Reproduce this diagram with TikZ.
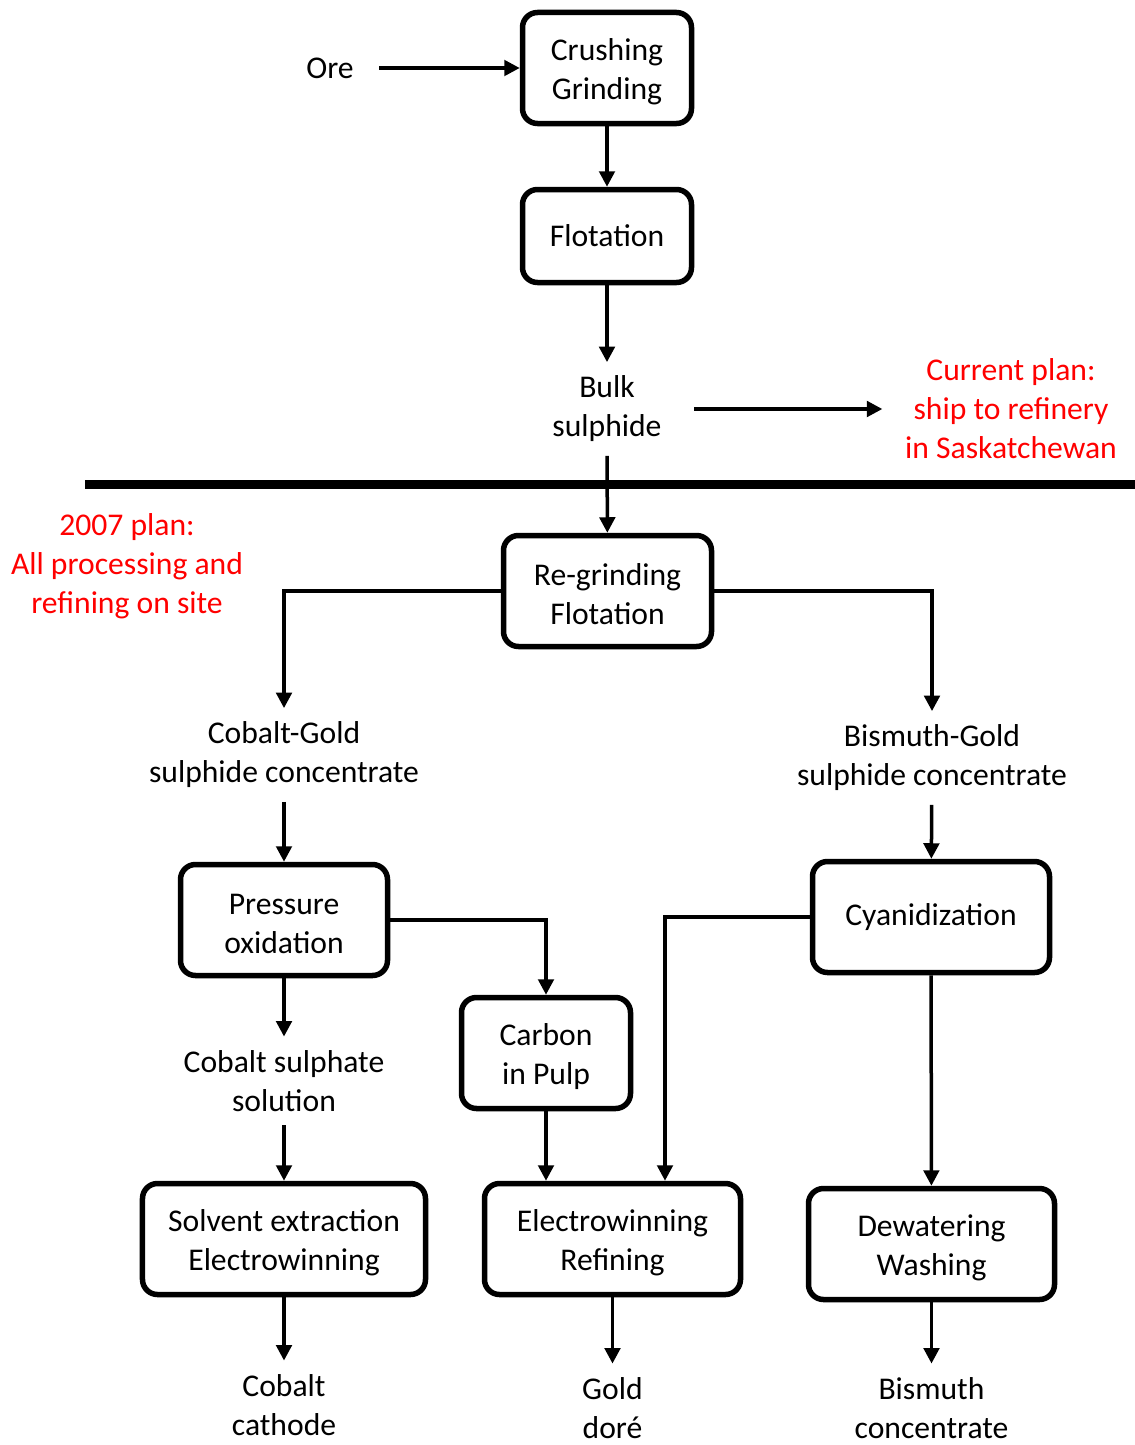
\documentclass[tikz,border=0pt]{standalone}
\usepackage{fontspec}
\setmainfont{Carlito}
\usetikzlibrary{arrows.meta}
\definecolor{FlowRed}{HTML}{FF0000}
\newcommand{\flowfont}{\fontsize{18}{22.2}\selectfont}

\begin{document}
\begin{tikzpicture}[
    x=0.2mm,y=-0.2mm,
    box/.style={draw,line width=1.1mm,rounded corners=3mm,minimum height=22.2mm,align=center,font=\flowfont,inner sep=0pt},
    twoline/.style={box,execute at begin node={\rule{0pt}{38.5pt}}},
    lbl/.style={align=center,font=\flowfont,inner sep=2.7mm},
    redlbl/.style={lbl,text=FlowRed},
    arr/.style={-{Triangle[length=3.1mm,width=3.1mm]},line width=0.7mm},
    divider/.style={line width=1.8mm}
  ]
    \useasboundingbox (0,0) rectangle (1135,1445);
    % upper part: mine site
    \node[lbl] (ore) at (330,68) {Ore};
    \node[twoline,minimum width=33.8mm] (crush) at (607,68) {Crushing\\Grinding};
    \node[box,minimum width=33.8mm,minimum height=18.6mm] (flot) at (607,236) {Flotation};
    \node[lbl] (bulk) at (607,409) {Bulk\\sulphide};
    \node[redlbl] (current) at (1011,409) {Current plan:\\ship to refinery\\in Saskatchewan};
    \draw[divider] (85,484) -- (1135,484);
    % lower part: 2007 plan
    \node[redlbl] (plan) at (127,566) {2007 plan:\\All processing and\\refining on site};
    \node[twoline,minimum width=41.6mm] (regrind) at (607.5,591) {Re-grinding\\Flotation};
    \node[lbl] (cog) at (284,755) {Cobalt-Gold\\sulphide concentrate};
    \node[lbl] (big) at (932,758) {Bismuth-Gold\\sulphide concentrate};
    \node[twoline,minimum width=41.4mm] (pox) at (284,920) {Pressure\\oxidation};
    \node[box,minimum width=47.4mm] (cyan) at (931,917) {Cyanidization};
    \node[twoline,minimum width=33.8mm] (cip) at (546,1053) {Carbon\\in Pulp};
    \node[lbl] (cosol) at (284,1081) {Cobalt sulphate\\solution};
    \node[twoline,minimum width=56.6mm] (sx) at (284,1239) {Solvent extraction\\Electrowinning};
    \node[twoline,minimum width=51.2mm] (ewr) at (612.5,1239) {Electrowinning\\Refining};
    \node[twoline,minimum width=49.2mm] (dew) at (931.5,1244) {Dewatering\\Washing};
    \node[lbl] (coc) at (284,1405) {Cobalt\\cathode};
    \node[lbl] (gold) at (612.5,1408) {Gold\\doré};
    \node[lbl] (bic) at (931.5,1408) {Bismuth\\concentrate};
    \draw[arr,shorten <=2.3mm] (ore) -- (crush);
    \draw[arr] (crush) -- (flot);
    \draw[arr] (flot) -- (bulk);
    \draw[arr,shorten <=3.8mm,shorten >=1.8mm] (bulk) -- (bulk -| current.west);
    \draw[arr] (bulk) -- (regrind);
    \draw[arr] (regrind.west) -| (cog.north);
    \draw[arr] (regrind.east) -| (big.north);
    \draw[arr] (cog) -- (pox);
    \draw[arr] (big) -- (cyan);
    \draw[arr] (pox.east) -| (cip.north);
    \draw[arr] (cyan.west) -| ([xshift=10.5mm]ewr.north);
    \draw[arr] (pox) -- (cosol);
    \draw[arr] (cosol) -- (sx);
    \draw[arr] (cip) -- (cip.south |- ewr.north);
    \draw[arr] (cyan) -- (dew);
    \draw[arr] (sx) -- (coc);
    \draw[arr] (ewr) -- (gold);
    \draw[arr] (dew) -- (bic);
  \end{tikzpicture}
\end{document}
